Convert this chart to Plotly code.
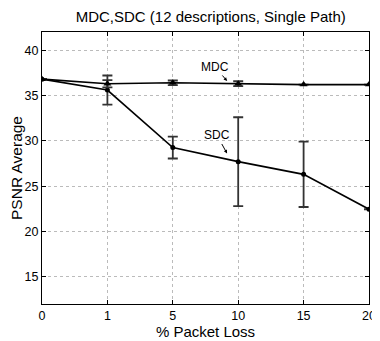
import plotly.graph_objects as go

loss_labels = ["0", "1", "5", "10", "15", "20"]
mdc_psnr = [36.8, 36.3, 36.4, 36.3, 36.2, 36.2]
mdc_err = [0.0, 0.4, 0.25, 0.27, 0.0, 0.0]
sdc_psnr = [36.8, 35.6, 29.25, 27.7, 26.3, 22.45]
sdc_err = [0.0, 1.6, 1.2, 4.9, 3.6, 0.0]

FONT = "Liberation Sans"

fig = go.Figure()
fig.add_trace(go.Scatter(
    x=loss_labels, y=sdc_psnr, mode="lines+markers", name="SDC",
    line=dict(color="black", width=1.6),
    marker=dict(symbol="circle", size=5, color="black"),
    error_y=dict(type="data", array=sdc_err, visible=True, color="#333333", thickness=1.8, width=5),
))
fig.add_trace(go.Scatter(
    x=loss_labels, y=mdc_psnr, mode="lines+markers", name="MDC",
    line=dict(color="black", width=1.6),
    marker=dict(symbol="triangle-up", size=7, color="black"),
    error_y=dict(type="data", array=mdc_err, visible=True, color="#333333", thickness=1.8, width=5),
))

fig.add_annotation(x=2.83, y=36.6, xref="x", yref="y", text="MDC", showarrow=True,
                   arrowhead=2, arrowsize=0.7, arrowwidth=1, arrowcolor="black",
                   ax=-12, ay=-14, font=dict(size=12, color="black", family=FONT))
fig.add_annotation(x=2.83, y=28.6, xref="x", yref="y", text="SDC", showarrow=True,
                   arrowhead=2, arrowsize=0.7, arrowwidth=1, arrowcolor="black",
                   ax=-10, ay=-18, font=dict(size=12, color="black", family=FONT))

axis_common = dict(
    showline=True, linecolor="black", linewidth=1.2, mirror="allticks",
    ticks="inside", ticklen=4, tickcolor="black",
    showgrid=True, gridcolor="#bbbbbb", griddash="dot", gridwidth=1,
    zeroline=False, tickfont=dict(size=12.5, color="black", family=FONT),
)

fig.update_xaxes(type="category", range=[0, 5],
                 title=dict(text="% Packet Loss", font=dict(size=15, color="black", family=FONT), standoff=0),
                 **axis_common)
fig.update_yaxes(range=[12, 42], tickvals=[15, 20, 25, 30, 35, 40],
                 title=dict(text="PSNR Average", font=dict(size=15.5, color="black", family=FONT), standoff=2),
                 **axis_common)

fig.update_layout(
    width=372, height=333,
    margin=dict(l=32, r=4, t=24, b=37),
    paper_bgcolor="white", plot_bgcolor="white",
    showlegend=False,
    title=dict(text="MDC,SDC (12 descriptions, Single Path)", x=0.545, xanchor="center",
               y=1 - 9 / 333, yanchor="middle",
               font=dict(size=15, color="black", family=FONT)),
)

fig.write_html("out.html")
